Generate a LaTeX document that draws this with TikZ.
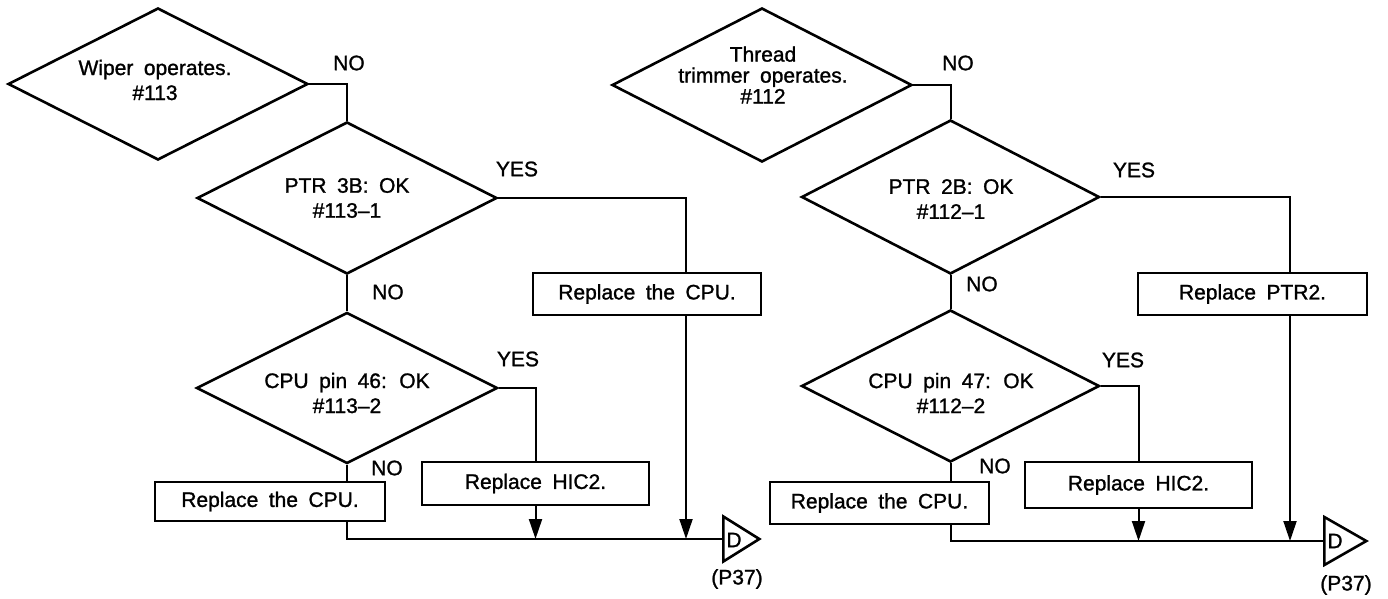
\documentclass[tikz,border=0pt]{standalone}
\usepackage{fontspec}
\setmainfont{Liberation Sans}[WordSpace=1.8,FakeBold=1.2]
\usetikzlibrary{shapes.geometric,arrows.meta}
\begin{document}
\begin{tikzpicture}[x=1pt,y=-1pt,
  every node/.style={font=\fontsize{21}{25}\selectfont},
  dia/.style 2 args={diamond, draw, line width=2.6pt, inner sep=0pt, minimum width=#1, minimum height=#2},
  txt/.style={align=center, inner sep=0pt},
  box/.style 2 args={draw, line width=2.6pt, inner sep=0pt, minimum width=#1, minimum height=#2},
  lab/.style={inner sep=0pt},
  conn/.style={line width=2pt},
  arr/.style={line width=2pt, -{Triangle[length=20pt,width=13pt]}},
  tri/.style 2 args={isosceles triangle, isosceles triangle stretches, draw, line width=2.6pt, inner sep=0pt, minimum width=#1, minimum height=#2, anchor=lower side}
]
\useasboundingbox (0,0) rectangle (1388,599);

% ---------------- left chart ----------------
\node[dia={300}{152}] (d1L) at (158,84) {};
\node[txt] (t1L) at (155,80) {Wiper operates.\\\#113};
\node[dia={300}{152}] (d2L) at (347,198) {};
\node[txt] (t2L) at (347,198) {PTR 3B: OK\\\#113–1};
\node[dia={301}{151}] (d3L) at (347,388) {};
\node[txt] (t3L) at (347,393) {CPU pin 46: OK\\\#113–2};

\node[box={228}{42}] (bTopL) at (647,294) {Replace the CPU.};
\node[box={227}{43}] (hicL) at (535.5,483.5) {Replace HIC2.};
\node[box={230}{39}] (bBotL) at (270,501.5) {Replace the CPU.};

\node[tri={45}{36}] (DL) at (722,539) {};
\node[lab] (DLt) at (734,540) {D};
\node[lab] (PL) at (737,579) {(P37)};

\node[lab] (noL1) at (349,63) {NO};
\node[lab] (yesL1) at (517,169) {YES};
\node[lab] (noL2) at (388,292) {NO};
\node[lab] (yesL2) at (518,359) {YES};
\node[lab] (noL3) at (387,468) {NO};

\draw[conn] (d1L.east) -| (d2L.north);
\draw[conn] (d2L.south) -- (d3L.north);
\draw[conn] (d2L.east) -| ([xshift=39pt]bTopL.north);
\draw[arr] ([xshift=39pt]bTopL.south) -- ([xshift=39pt]bTopL.south |- DL.lower side);
\draw[conn] (d3L.east) -| (hicL.north);
\draw[arr] (hicL.south) -- (hicL.south |- DL.lower side);
\draw[conn] (d3L.south) -- (d3L.south |- bBotL.north);
\draw[conn] (d3L.south |- bBotL.south) -- (d3L.south |- DL.lower side) -- (DL.lower side);

% ---------------- right chart ----------------
\node[dia={300}{154}] (d1R) at (762,85) {};
\node[txt, font=\fontsize{21}{21}\selectfont] (t1R) at (763,75) {Thread\\trimmer operates.\\\#112};
\node[dia={298}{154}] (d2R) at (950.5,197) {};
\node[txt] (t2R) at (951,199) {PTR 2B: OK\\\#112–1};
\node[dia={298}{152}] (d3R) at (950.5,386) {};
\node[txt] (t3R) at (951,393) {CPU pin 47: OK\\\#112–2};

\node[box={229}{42}] (bTopR) at (1252.5,294) {Replace PTR2.};
\node[box={227}{46}] (hicR) at (1138.5,485) {Replace HIC2.};
\node[box={219}{42}] (bBotR) at (879.5,503) {Replace the CPU.};

\node[tri={48}{42}] (DR) at (1323,541) {};
\node[lab] (DRt) at (1335,541) {D};
\node[lab] (PR) at (1346,585) {(P37)};

\node[lab] (noR1) at (958,63) {NO};
\node[lab] (yesR1) at (1134,170) {YES};
\node[lab] (noR2) at (982,284) {NO};
\node[lab] (yesR2) at (1123,360) {YES};
\node[lab] (noR3) at (995,466) {NO};

\draw[conn] (d1R.east) -| (d2R.north);
\draw[conn] (d2R.south) -- (d3R.north);
\draw[conn] (d2R.east) -| ([xshift=37.5pt]bTopR.north);
\draw[arr] ([xshift=37.5pt]bTopR.south) -- ([xshift=37.5pt]bTopR.south |- DR.lower side);
\draw[conn] (d3R.east) -| (hicR.north);
\draw[arr] (hicR.south) -- (hicR.south |- DR.lower side);
\draw[conn] (d3R.south) -- (d3R.south |- bBotR.north);
\draw[conn] (d3R.south |- bBotR.south) -- (d3R.south |- DR.lower side) -- (DR.lower side);
\end{tikzpicture}
\end{document}
